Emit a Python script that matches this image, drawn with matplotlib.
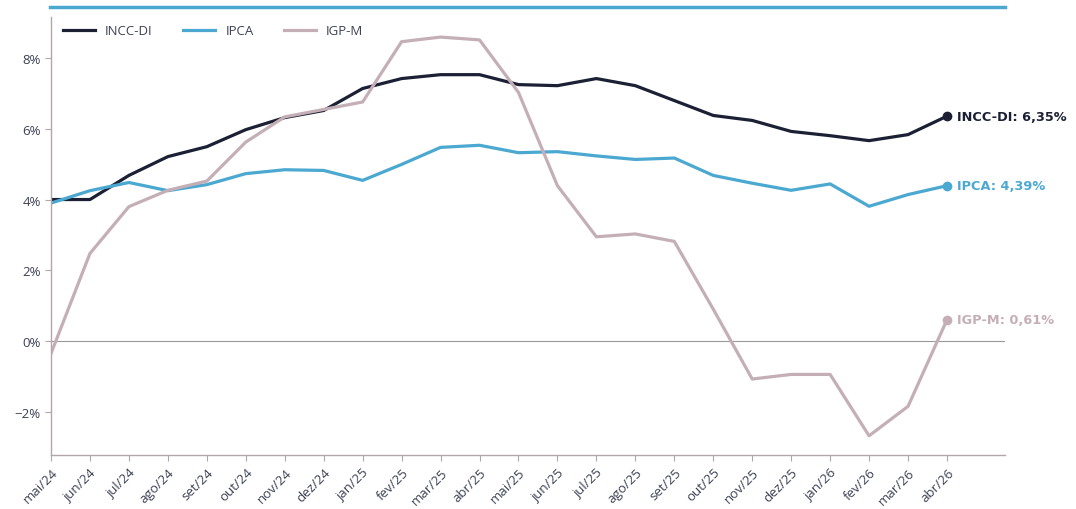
import matplotlib.pyplot as plt
from matplotlib.lines import Line2D
from matplotlib.ticker import FuncFormatter

months = ['mai/24', 'jun/24', 'jul/24', 'ago/24', 'set/24', 'out/24', 'nov/24', 'dez/24',
          'jan/25', 'fev/25', 'mar/25', 'abr/25', 'mai/25', 'jun/25', 'jul/25', 'ago/25',
          'set/25', 'out/25', 'nov/25', 'dez/25', 'jan/26', 'fev/26', 'mar/26', 'abr/26']

incc = [4.00, 4.00, 4.68, 5.21, 5.49, 5.97, 6.31, 6.51, 7.13, 7.41, 7.52, 7.52,
        7.24, 7.21, 7.41, 7.21, 6.79, 6.37, 6.23, 5.92, 5.80, 5.66, 5.83, 6.35]
ipca = [3.90, 4.25, 4.48, 4.25, 4.42, 4.73, 4.84, 4.82, 4.54, 4.99, 5.47, 5.53,
        5.32, 5.35, 5.23, 5.13, 5.17, 4.68, 4.46, 4.26, 4.44, 3.81, 4.14, 4.39]
igpm = [-0.34, 2.48, 3.80, 4.26, 4.52, 5.62, 6.33, 6.54, 6.75, 8.45, 8.58, 8.50,
        7.02, 4.39, 2.95, 3.03, 2.82, 0.91, -1.06, -0.93, -0.93, -2.66, -1.83, 0.61]

names = ['INCC-DI', 'IPCA', 'IGP-M']
series = [incc, ipca, igpm]
colors = ['#1b2034', '#4ba8d1', '#c5afb6']

fig = plt.figure(figsize=(10.76, 5.10), dpi=100)
ax = fig.add_axes([0.0474, 0.106, 0.887, 0.859])

x = list(range(len(months)))
for name, vals, c in zip(names, series, colors):
    ax.plot(x, vals, color=c, lw=2.3, label=name)
    ax.plot(x[-1], vals[-1], 'o', color=c, ms=6)
    lbl = name + ': ' + f'{vals[-1]:.2f}'.replace('.', ',') + '%'
    ax.annotate(lbl, (x[-1], vals[-1]), xytext=(7, 0), textcoords='offset points',
                va='center', ha='left', color=c, fontsize=9.3, fontweight='bold',
                family='DejaVu Sans')

ax.axhline(0, color='#999999', lw=0.8, zorder=0)

ax.set_xlim(0, 24.5)
ax.set_ylim(-3.2, 9.15)
ax.set_yticks([-2, 0, 2, 4, 6, 8])
ax.yaxis.set_major_formatter(FuncFormatter(lambda v, p: f'{v:.0f}%'.replace('-', '\u2212')))
ax.set_xticks(x)
ax.set_xticklabels(months, rotation=45, ha='right', rotation_mode='anchor')

for s in ['top', 'right']:
    ax.spines[s].set_visible(False)
for s in ['left', 'bottom']:
    ax.spines[s].set_color('#b3a6ab')
    ax.spines[s].set_linewidth(1.0)
ax.tick_params(colors='#b3a6ab', labelcolor='#3d4155', labelsize=9.5, length=4)
for t in ax.get_xticklabels() + ax.get_yticklabels():
    t.set_family('Open Sans')

leg = ax.legend(loc='upper left', ncol=3, frameon=False,
                handlelength=2.4, columnspacing=2.3, bbox_to_anchor=(0.0, 1.01),
                prop={'family': 'Open Sans', 'size': 9.5})
for t in leg.get_texts():
    t.set_color('#3d4155')

fig.add_artist(Line2D([0.0465, 0.934], [0.984, 0.984], color='#4ba8d1', lw=2.5,
                      transform=fig.transFigure))

fig.savefig('out.png', dpi=100)
